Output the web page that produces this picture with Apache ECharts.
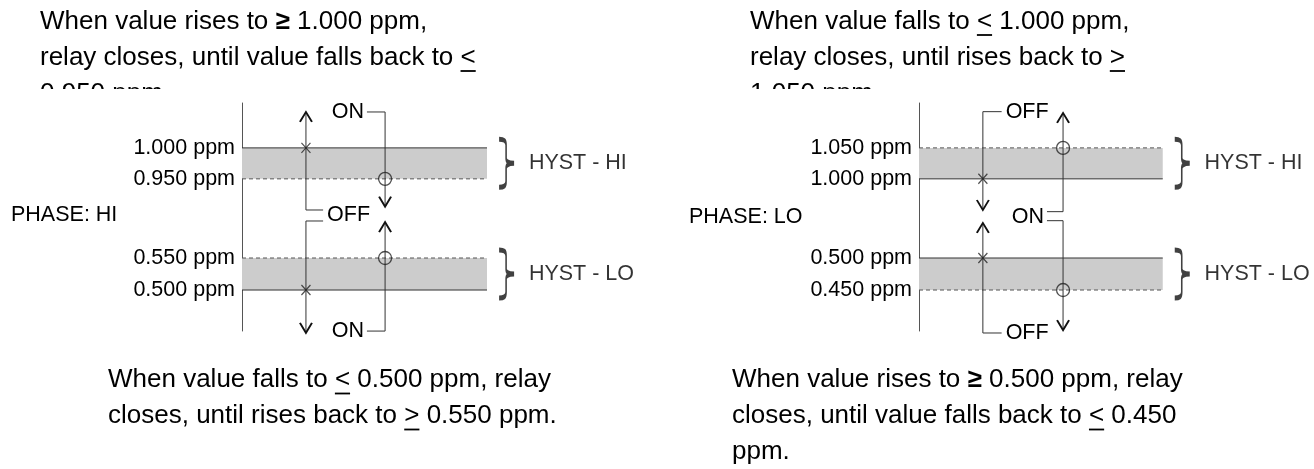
<!DOCTYPE html>
<html>
<head>
<meta charset="utf-8">
<title>Relay hysteresis</title>
<script src="https://cdn.jsdelivr.net/npm/echarts@6/dist/echarts.min.js"></script>
<style>
  html, body { margin: 0; padding: 0; background: #fff; }
  #chart { width: 1314px; height: 469px; }
</style>
</head>
<body>
<div id="chart"></div>
<script>
// set points in ppm, upper value first
const phaseHiBandHi = [1.000, 0.950]
const phaseHiBandLo = [0.550, 0.500]
const phaseLoBandHi = [1.050, 1.000]
const phaseLoBandLo = [0.500, 0.450]

// relay traces: [position across the band (%), ppm]
const hiTraceTopA = [[33.1, 0.8997], [26.1, 0.8997], [26.1, 1.058]]
const hiTraceTopB = [[51.0, 1.058], [58.4, 1.058], [58.4, 0.905]]
const hiTraceBotA = [[33.1, 0.6078], [26.1, 0.6078], [26.1, 0.4329]]
const hiTraceBotB = [[58.4, 0.6062], [58.4, 0.4359], [51.0, 0.4359]]
const loTraceTopA = [[33.9, 1.1085], [26.2, 1.1085], [26.2, 0.9497]]
const loTraceTopB = [[52.5, 0.947], [59.1, 0.947], [59.1, 1.1064]]
const loTraceBotA = [[26.2, 0.5547], [26.2, 0.3829], [33.9, 0.3829]]
const loTraceBotB = [[52.5, 0.5583], [59.1, 0.5583], [59.1, 0.3875]]

// switching points: x = closes, o = opens
const hiCloseMarks = [[26.1, 1.000], [26.1, 0.500]]
const hiOpenMarks = [[58.4, 0.950], [58.4, 0.550]]
const loCloseMarks = [[26.2, 1.000], [26.2, 0.500]]
const loOpenMarks = [[59.1, 1.050], [59.1, 0.450]]

const hystNames = ['HYST - HI', 'HYST - LO']
const phaseNames = ['PHASE: HI', 'PHASE: LO']

const headHi = ['When value rises to *≥* 1.000 ppm,', 'relay closes, until value falls back to _<_', '0.950 ppm.']
const headLo = ['When value falls to _<_ 1.000 ppm,', 'relay closes, until rises back to _>_', '1.050 ppm.']
const footHi = ['When value falls to _<_ 0.500 ppm, relay', 'closes, until rises back to _>_ 0.550 ppm.']
const footLo = ['When value rises to *≥* 0.500 ppm, relay', 'closes, until value falls back to _<_ 0.450', 'ppm.']

const FONT = '"Liberation Sans", Arial, sans-serif'
const INK = '#000'
const LINE = '#333'
const ARROW_UP = 'path://M0,10L6,0L12,10'
const ARROW_DOWN = 'path://M0,0L6,10L12,0'
const CROSS = 'path://M0,0L10,10M10,0L0,10'
const BRACE = 'path://M0,0C6,0 7,2 7,6L7,19C7,22 9,24 15,24C9,24 7,26 7,29L7,42C7,46 6,48 0,48'

const chart = echarts.init(document.getElementById('chart'))

// grids: 0/1 = PHASE HI (upper/lower part), 2/3 = PHASE LO
const grids = [
  { left: 242, top: 103, width: 392, height: 113 },
  { left: 242, top: 216, width: 392, height: 115 },
  { left: 919, top: 103, width: 390, height: 113 },
  { left: 919, top: 216, width: 390, height: 115 }
]
const yRanges = [[0.89, 1.0725], [0.436, 0.6156], [0.94, 1.1225], [0.386, 0.5656]]
const bands = [phaseHiBandHi, phaseHiBandLo, phaseLoBandHi, phaseLoBandLo]

const xAxis = grids.map((g, i) => ({
  gridIndex: i, type: 'value', min: 0, max: 160, show: false
}))
const yAxis = grids.map((g, i) => ({
  gridIndex: i,
  type: 'value',
  min: yRanges[i][0],
  max: yRanges[i][1],
  axisLine: { show: true, onZero: false, lineStyle: { color: '#555', width: 1 } },
  axisTick: { show: false },
  splitLine: { show: false },
  axisLabel: {
    customValues: bands[i],
    formatter: v => v.toFixed(3) + ' ppm',
    fontSize: 21.5,
    fontFamily: FONT,
    color: INK,
    margin: 7
  }
}))

function traceSeries (g, pts, arrowAt, label, side, dy) {
  const n = pts.length
  const ai = arrowAt < 0 ? n - 1 : 0
  const nb = ai === 0 ? 1 : n - 2
  const up = pts[ai][1] > pts[nb][1]
  const li = ai === 0 ? n - 1 : 0
  const data = pts.map((p, i) => {
    const d = { value: p }
    if (i === ai) {
      d.symbol = up ? ARROW_UP : ARROW_DOWN
      d.symbolSize = [12, 10]
      d.symbolOffset = [0, up ? '50%' : '-50%']
    } else if (i === li && label) {
      d.symbol = 'circle'
      d.symbolSize = 0
      d.label = {
        show: true,
        formatter: label,
        position: side,
        distance: side === 'left' ? 3 : 4,
        offset: [0, dy || 0],
        fontSize: 21.5,
        fontFamily: FONT,
        color: INK
      }
    }
    return d
  })
  return {
    type: 'line',
    xAxisIndex: g,
    yAxisIndex: g,
    data: data,
    symbol: 'none',
    clip: false,
    silent: true,
    z: 3,
    lineStyle: { color: LINE, width: 1 },
    itemStyle: { color: 'rgba(0,0,0,0)', borderColor: '#111', borderWidth: 1.8 }
  }
}

function bandSeries (g, band, solidFirst) {
  const list = [{
    type: 'line',
    xAxisIndex: g,
    yAxisIndex: g,
    data: [],
    silent: true,
    z: 1,
    markArea: {
      silent: true,
      itemStyle: { color: '#cccccc' },
      data: [[{ coord: [0, band[0]] }, { coord: [100, band[1]] }]]
    }
  }]
  band.forEach((v, k) => {
    const solid = solidFirst ? k === 0 : k === 1
    list.push({
      type: 'line',
      xAxisIndex: g,
      yAxisIndex: g,
      data: [[0, v], [100, v]],
      symbol: 'none',
      silent: true,
      z: 2,
      lineStyle: solid
        ? { color: '#333', width: 1 }
        : { color: '#555', width: 1, type: [4, 3] }
    })
  })
  return list
}

function markSeries (g, pts, symbol, size) {
  return {
    type: 'scatter',
    xAxisIndex: g,
    yAxisIndex: g,
    data: pts,
    symbol: symbol,
    symbolSize: size,
    silent: true,
    z: 4,
    itemStyle: { color: 'rgba(0,0,0,0)', borderColor: '#222', borderWidth: 1.3 }
  }
}

function braceSeries (g, band, name) {
  return {
    type: 'scatter',
    xAxisIndex: g,
    yAxisIndex: g,
    data: [[108, (band[0] + band[1]) / 2]],
    symbol: BRACE,
    symbolSize: [15, 48],
    silent: true,
    z: 4,
    itemStyle: { color: 'rgba(0,0,0,0)', borderColor: '#111', borderWidth: 2.8 },
    label: {
      show: true,
      position: 'right',
      distance: 14,
      formatter: name,
      fontSize: 21.5,
      fontFamily: FONT,
      color: INK
    }
  }
}

const series = [].concat(
  bandSeries(0, phaseHiBandHi, true),
  bandSeries(1, phaseHiBandLo, false),
  bandSeries(2, phaseLoBandHi, false),
  bandSeries(3, phaseLoBandLo, true),
  [
    traceSeries(0, hiTraceTopA, -1, 'OFF', 'right', 5.5),
    traceSeries(0, hiTraceTopB, -1, 'ON', 'left', 0),
    traceSeries(1, hiTraceBotA, -1, null),
    traceSeries(1, hiTraceBotB, 0, 'ON', 'left', 0),
    traceSeries(2, loTraceTopA, -1, 'OFF', 'right', 0),
    traceSeries(2, loTraceTopB, -1, 'ON', 'left', 5),
    traceSeries(3, loTraceBotA, 0, 'OFF', 'right', 0),
    traceSeries(3, loTraceBotB, -1, null),
    markSeries(0, [hiCloseMarks[0]], CROSS, [9, 10]),
    markSeries(1, [hiCloseMarks[1]], CROSS, [9, 10]),
    markSeries(0, [hiOpenMarks[0]], 'circle', 13),
    markSeries(1, [hiOpenMarks[1]], 'circle', 13),
    markSeries(2, [loCloseMarks[0]], CROSS, [9, 10]),
    markSeries(3, [loCloseMarks[1]], CROSS, [9, 10]),
    markSeries(2, [loOpenMarks[0]], 'circle', 13),
    markSeries(3, [loOpenMarks[1]], 'circle', 13),
    braceSeries(0, phaseHiBandHi, hystNames[0]),
    braceSeries(1, phaseHiBandLo, hystNames[1]),
    braceSeries(2, phaseLoBandHi, hystNames[0]),
    braceSeries(3, phaseLoBandLo, hystNames[1])
  ]
)

// explanatory text: *x* = bold glyph, _x_ = underlined glyph
const HEAD_SIZE = 26
const LINE_GAP = 36
const ctx = document.createElement('canvas').getContext('2d')

function textBlock (lines, x, y0) {
  const els = []
  lines.forEach((line, r) => {
    const y = y0 + r * LINE_GAP
    let cx = x
    line.split(/(\*[^*]+\*|_[^_]+_)/).filter(s => s.length).forEach(seg => {
      let txt = seg
      let bold = false
      let under = false
      if (seg[0] === '*') { txt = seg.slice(1, -1); bold = true }
      if (seg[0] === '_') { txt = seg.slice(1, -1); under = true }
      const font = (bold ? 'bold ' : '') + HEAD_SIZE + 'px ' + FONT
      ctx.font = font
      const w = ctx.measureText(txt).width
      els.push({
        type: 'text', x: cx, y: y, z: 0, silent: true,
        style: { text: txt, font: font, fill: INK, align: 'left', verticalAlign: 'middle', textVerticalAlign: 'middle' }
      })
      if (under) {
        els.push({
          type: 'line', z: 0, silent: true,
          shape: { x1: cx, y1: y + 13.5, x2: cx + w, y2: y + 13.5 },
          style: { stroke: INK, lineWidth: 1.8 }
        })
      }
      cx += w
    })
  })
  return els
}

const graphic = [].concat(
  textBlock(headHi, 40, 21.5),
  textBlock(headLo, 750, 21.5),
  textBlock(footHi, 108, 380),
  textBlock(footLo, 732, 380),
  [
    // the third heading line is cut off by the diagram area
    { type: 'rect', z: 1, silent: true, shape: { x: 30, y: 89, width: 205, height: 24 }, style: { fill: '#fff' } },
    { type: 'rect', z: 1, silent: true, shape: { x: 740, y: 89, width: 165, height: 24 }, style: { fill: '#fff' } },
    {
      type: 'text', x: 11, y: 215, z: 0, silent: true,
      style: { text: phaseNames[0], font: '21.5px ' + FONT, fill: INK, verticalAlign: 'middle', textVerticalAlign: 'middle' }
    },
    {
      type: 'text', x: 689, y: 217, z: 0, silent: true,
      style: { text: phaseNames[1], font: '21.5px ' + FONT, fill: INK, verticalAlign: 'middle', textVerticalAlign: 'middle' }
    }
  ]
)

chart.setOption({
  animation: false,
  backgroundColor: '#fff',
  grid: grids.map(g => Object.assign({ outerBoundsMode: 'none' }, g)),
  xAxis: xAxis,
  yAxis: yAxis,
  series: series,
  graphic: graphic
})
</script>
</body>
</html>
